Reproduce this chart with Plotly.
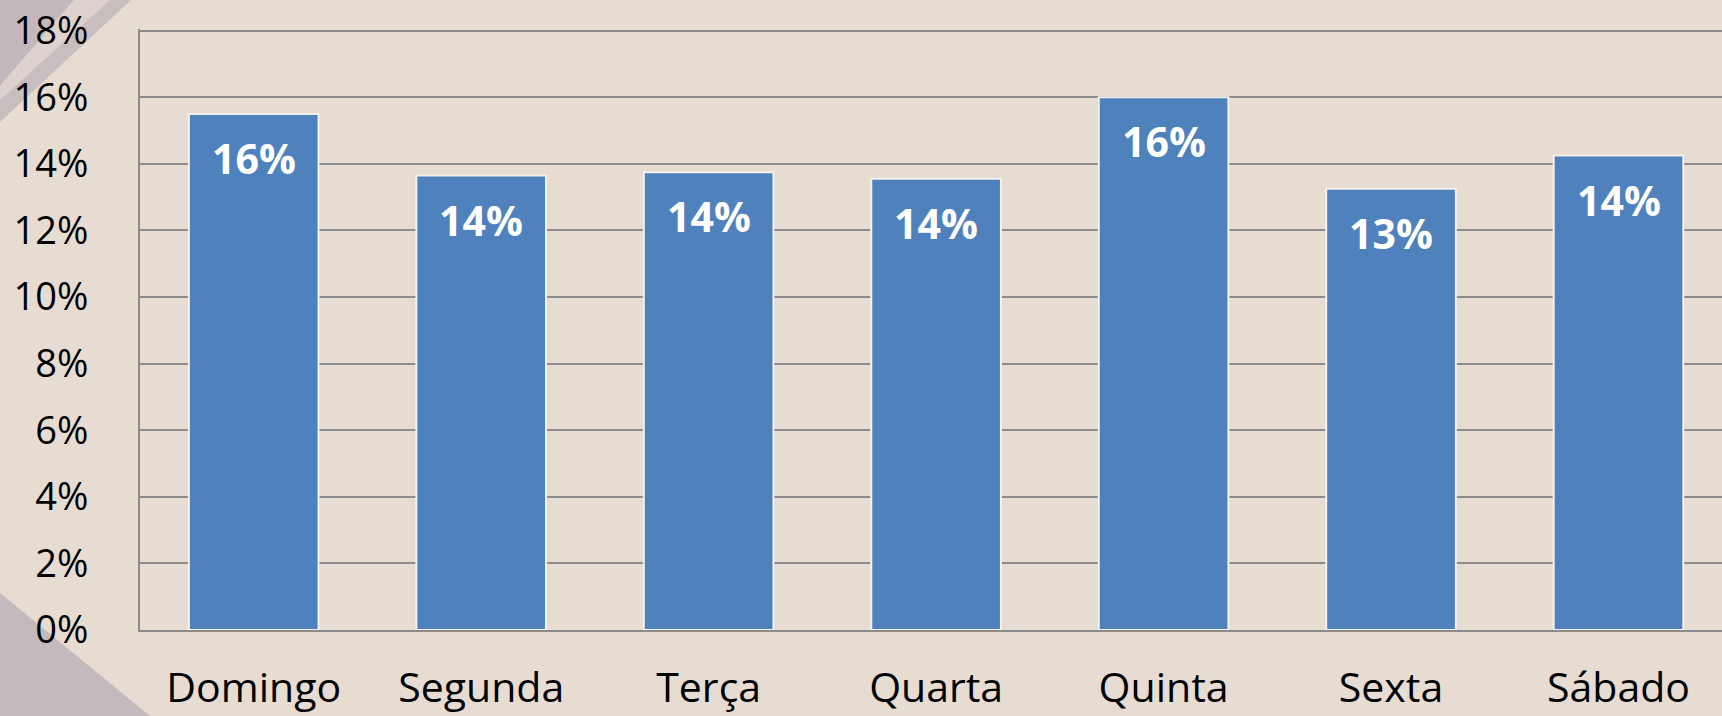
import plotly.graph_objects as go

categories = ["Domingo", "Segunda", "Terça", "Quarta", "Quinta", "Sexta", "Sábado"]
values = [0.155, 0.1365, 0.1375, 0.1355, 0.160, 0.1325, 0.1425]
y_ticks = [0, 0.02, 0.04, 0.06, 0.08, 0.10, 0.12, 0.14, 0.16, 0.18]
y_tick_labels = ["0%", "2%", "4%", "6%", "8%", "10%", "12%", "14%", "16%", "18%"]

W, H = 1722, 716
L, R, T, B = 140, 0, 29, 86
pw, ph = W - L - R, H - T - B

def px(x):
    return (x - L) / pw

def py(y):
    return (H - B - y) / ph

fig = go.Figure()
fig.add_trace(go.Bar(
    x=categories, y=values,
    marker=dict(color="#4f81bd", line=dict(color="#f4f0ec", width=2)),
    width=0.57,
    hoverinfo="skip",
))

for c, v in zip(categories, values):
    fig.add_annotation(
        x=c, y=v, xref="x", yref="y",
        text=f"<b>{round(v * 100):.0f}%</b>",
        showarrow=False, yanchor="top", yshift=-14,
        font=dict(family="Open Sans", size=41, color="white"),
    )

# decorative background corner shapes
shapes = [
    dict(type="path", xref="paper", yref="paper",
         path=f"M {px(0)} {py(0)} L {px(74)} {py(0)} L {px(0)} {py(86)} Z",
         fillcolor="#c3b8bb", line=dict(width=0), layer="below"),
    dict(type="path", xref="paper", yref="paper",
         path=f"M {px(74)} {py(0)} L {px(110)} {py(0)} L {px(0)} {py(100)} L {px(0)} {py(86)} Z",
         fillcolor="#ddd2ce", line=dict(width=0), layer="below"),
    dict(type="path", xref="paper", yref="paper",
         path=f"M {px(110)} {py(0)} L {px(131)} {py(0)} L {px(0)} {py(122)} L {px(0)} {py(100)} Z",
         fillcolor="#c9bebf", line=dict(width=0), layer="below"),
    dict(type="path", xref="paper", yref="paper",
         path=f"M {px(0)} {py(593)} L {px(150)} {py(716)} L {px(0)} {py(716)} Z",
         fillcolor="#c4b9bc", line=dict(width=0), layer="below"),
]

fig.update_layout(
    width=W, height=H,
    margin=dict(l=L, r=R, t=T, b=B, pad=0, autoexpand=False),
    paper_bgcolor="#e6dcd2",
    plot_bgcolor="rgba(0,0,0,0)",
    showlegend=False,
    bargap=0.43,
    shapes=shapes,
    font=dict(family="Open Sans", color="black"),
    xaxis=dict(
        range=[-0.5, 6.455],
        automargin=False,
        showline=True, linecolor="#8c8c8c", linewidth=2,
        showgrid=False, ticks="",
        tickfont=dict(family="Open Sans", size=41, color="black"),
        ticklabelstandoff=21,
    ),
    yaxis=dict(
        range=[0, 0.1805],
        automargin=False,
        tickvals=y_ticks, ticktext=y_tick_labels,
        showgrid=True, gridcolor="#8c8c8c", gridwidth=2,
        showline=True, linecolor="#8c8c8c", linewidth=2,
        zeroline=False, ticks="",
        tickfont=dict(family="Open Sans", size=38, color="black"),
        ticklabelstandoff=42,
    ),
)

fig.write_html(
    "out.html",
    config={"displayModeBar": False},
    post_script="document.body.style.margin='0';document.body.style.background='#e6dcd2';",
)
